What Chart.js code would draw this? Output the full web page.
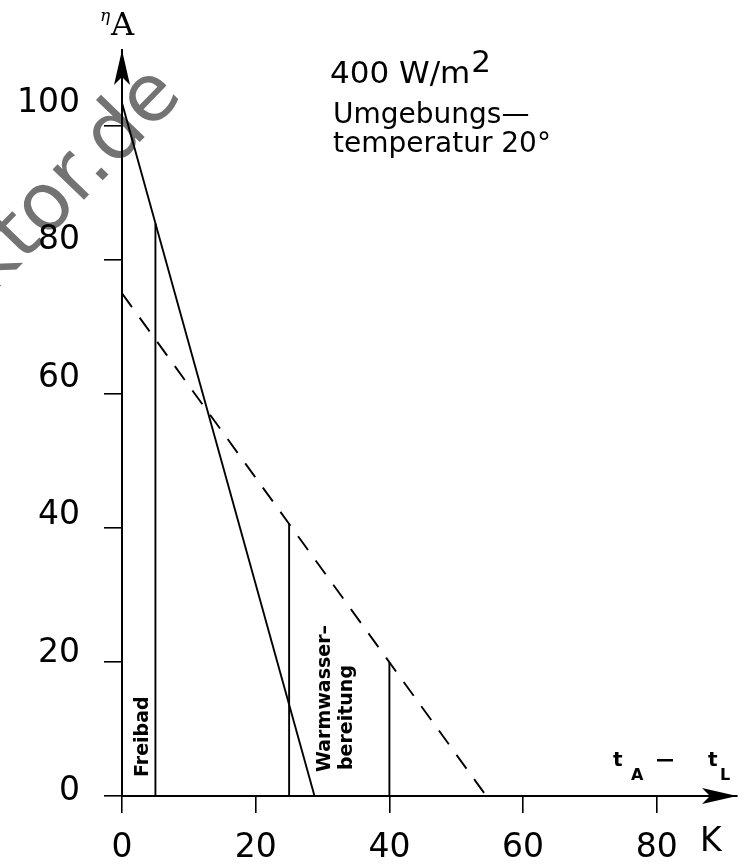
<!DOCTYPE html>
<html lang="de">
<head>
<meta charset="utf-8">
<title>Kollektor-Wirkungsgrad</title>
<script src="https://cdn.jsdelivr.net/npm/chart.js"></script>
<style>
  html, body { margin: 0; padding: 0; background: #fff; }
  canvas { display: block; }
</style>
</head>
<body>
<canvas id="chart" width="744" height="865"></canvas>
<script>
// tick values on both axes
const xTicks = [0, 20, 40, 60, 80];
const yTicks = [0, 20, 40, 60, 80, 100];

// solid line (first collector), from the y axis down to the x axis
const solidX = [0, 28.8];
const solidY = [103.4, 0];

// dashed line (second collector)
const dashedX = [0, 54.5];
const dashedY = [75, 0];

// vertical marks for the use cases (Freibad, Warmwasserbereitung)
const markX = [5, 25, 40];
const markY = [85.4, 40.6, 20];

const sans = "'DejaVu Sans', sans-serif";

//turns two value arrays into {x, y} points for the scatter chart
const toPoints = (xs, ys) => xs.map((x, i) => ({ x: x, y: ys[i] }));

//arrowhead with a notched back, tip at (tx, ty), pointing along (dx, dy)
function arrow(ctx, tx, ty, dx, dy) {
  const len = 35, half = 8, notch = 27;
  const px = -dy, py = dx;
  ctx.beginPath();
  ctx.moveTo(tx, ty);
  ctx.lineTo(tx - dx * len + px * half, ty - dy * len + py * half);
  ctx.lineTo(tx - dx * notch, ty - dy * notch);
  ctx.lineTo(tx - dx * len - px * half, ty - dy * len - py * half);
  ctx.closePath();
  ctx.fill();
}

//text turned 90 degrees, reading upwards, baseline on the right
function upText(ctx, text, x, y) {
  ctx.save();
  ctx.translate(x, y);
  ctx.rotate(-Math.PI / 2);
  ctx.fillText(text, 0, 0);
  ctx.restore();
}

const drawingPlugin = {
  id: "drawing",
  beforeDraw(chart) {
    // watermark behind everything
    const ctx = chart.ctx;
    ctx.save();
    ctx.translate(-9, 296);
    ctx.rotate(-46 * Math.PI / 180);
    ctx.fillStyle = "rgb(115, 115, 115)";
    ctx.font = "80px " + sans;
    ctx.fillText("ktor.de", 0, 0);
    ctx.restore();
  },
  afterDraw(chart) {
    const ctx = chart.ctx;
    const x = chart.scales.x;
    const y = chart.scales.y;
    const x0 = x.getPixelForValue(0);
    const y0 = y.getPixelForValue(0);

    ctx.save();
    ctx.fillStyle = "#000";
    ctx.textBaseline = "alphabetic";
    ctx.textAlign = "left";

    // arrowheads at the axis ends
    arrow(ctx, x.right, y0, 1, 0);
    arrow(ctx, x0, y.top, 0, -1);

    // axis titles
    ctx.font = "32px 'DejaVu Serif', serif";
    ctx.fillText("A", 111, 35);
    ctx.font = "italic 17px 'DejaVu Serif', serif";
    ctx.fillText("η", 100, 21);

    ctx.font = "bold 20px " + sans;
    ctx.fillText("t", 613, 766);
    ctx.fillText("t", 708, 766);
    ctx.font = "bold 16px " + sans;
    ctx.fillText("A", 631, 780);
    ctx.fillText("L", 720, 780);
    ctx.fillRect(657, 759, 16, 2.5);

    ctx.font = "33px " + sans;
    ctx.fillText("K", 700, 851);

    // conditions
    ctx.font = "31px " + sans;
    ctx.fillText("400 W/m", 330, 83);
    const w = ctx.measureText("400 W/m").width;
    ctx.fillText("2", 330 + w + 1, 72);
    ctx.font = "28px " + sans;
    ctx.fillText("Umgebungs—", 333, 123);
    ctx.fillText("temperatur 20°", 333, 152);

    // use case labels next to the marks
    ctx.font = "bold 19px " + sans;
    upText(ctx, "Freibad", 148, 777);
    upText(ctx, "Warmwasser–", 330, 772);
    upText(ctx, "bereitung", 352, 770);
    ctx.restore();
  },
};

const lineStyle = {
  borderColor: "#000",
  borderWidth: 1.9,
  pointRadius: 0,
  showLine: true,
  fill: false,
  tension: 0,
};

const datasets = [
  { ...lineStyle, data: toPoints(solidX, solidY) },
  { ...lineStyle, data: toPoints(dashedX, dashedY), borderDash: [17, 13] },
];
markX.forEach((mx, i) => {
  datasets.push({ ...lineStyle, data: toPoints([mx, mx], [0, markY[i]]) });
});

new Chart("chart", {
  type: "scatter",
  data: { datasets: datasets },
  plugins: [drawingPlugin],
  options: {
    responsive: false,
    devicePixelRatio: 1,
    animation: false,
    layout: { padding: { top: 50, right: 7, left: 0, bottom: 0 } },
    plugins: {
      legend: { display: false },
      tooltip: { enabled: false },
    },
    scales: {
      x: {
        type: "linear",
        min: 0,
        max: 92,
        afterBuildTicks: (scale) => { scale.ticks = xTicks.map((v) => ({ value: v })); },
        afterFit: (scale) => { scale.height = 69; },
        border: { display: true, color: "#000", width: 2 },
        grid: { drawOnChartArea: false, drawTicks: true, tickLength: 17, color: "#000", lineWidth: 1.6 },
        ticks: { font: { family: sans, size: 33 }, color: "#000", padding: 16, autoSkip: false, maxRotation: 0 },
      },
      // tick marks of the y axis
      y: {
        type: "linear",
        position: "left",
        weight: 0,
        min: 0,
        max: 111.3,
        afterBuildTicks: (scale) => { scale.ticks = yTicks.map((v) => ({ value: v })); },
        afterFit: (scale) => { scale.width = 18; },
        border: { display: true, color: "#000", width: 2 },
        grid: { drawOnChartArea: false, drawTicks: true, tickLength: 18, color: "#000", lineWidth: 1.6 },
        ticks: { display: false },
      },
      // labels of the y axis, which sit a little above their tick marks
      yLab: {
        type: "linear",
        position: "left",
        weight: 1,
        min: -0.73,
        max: 107.7,
        afterBuildTicks: (scale) => { scale.ticks = yTicks.map((v) => ({ value: v })); },
        afterFit: (scale) => { scale.width = 104; },
        border: { display: false },
        grid: { display: false, drawTicks: false },
        ticks: { font: { family: sans, size: 33 }, color: "#000", padding: 24, autoSkip: false },
      },
    },
  },
});
</script>
</body>
</html>
